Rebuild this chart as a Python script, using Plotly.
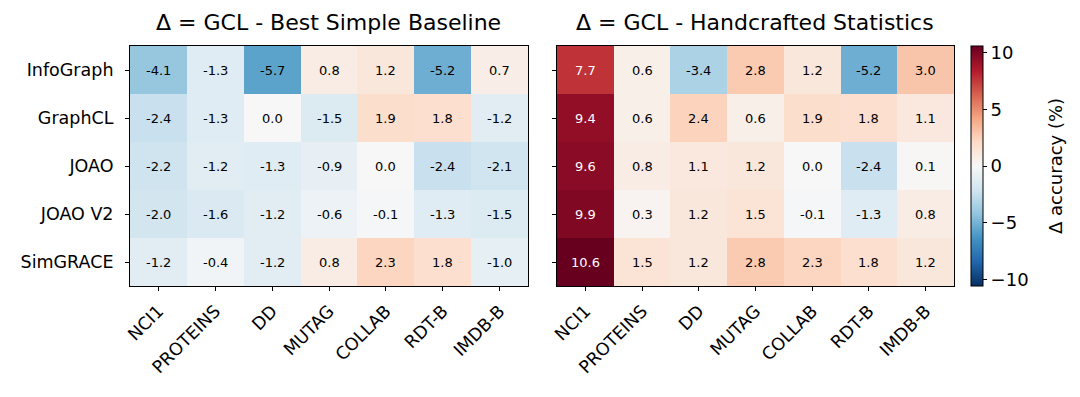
import plotly.graph_objects as go
from plotly.subplots import make_subplots

# Datasets (columns) and GCL methods (rows)
datasets = ["NCI1", "PROTEINS", "DD", "MUTAG", "COLLAB", "RDT-B", "IMDB-B"]
methods = ["InfoGraph", "GraphCL", "JOAO", "JOAO V2", "SimGRACE"]

# Delta = GCL - best simple baseline
delta_simple = [
    [-4.1, -1.3, -5.7, 0.8, 1.2, -5.2, 0.7],
    [-2.4, -1.3, 0.0, -1.5, 1.9, 1.8, -1.2],
    [-2.2, -1.2, -1.3, -0.9, 0.0, -2.4, -2.1],
    [-2.0, -1.6, -1.2, -0.6, -0.1, -1.3, -1.5],
    [-1.2, -0.4, -1.2, 0.8, 2.3, 1.8, -1.0],
]

# Delta = GCL - handcrafted statistics
delta_hand = [
    [7.7, 0.6, -3.4, 2.8, 1.2, -5.2, 3.0],
    [9.4, 0.6, 2.4, 0.6, 1.9, 1.8, 1.1],
    [9.6, 0.8, 1.1, 1.2, 0.0, -2.4, 0.1],
    [9.9, 0.3, 1.2, 1.5, -0.1, -1.3, 0.8],
    [10.6, 1.5, 1.2, 2.8, 2.3, 1.8, 1.2],
]

titles = ["Δ = GCL - Best Simple Baseline", "Δ = GCL - Handcrafted Statistics"]
cbar_title = "Δ accuracy (%)"
cbar_ticks = [-10, -5, 0, 5, 10]
vmax = 10.6

# matplotlib RdBu_r
rdbu = ["rgb(5,48,97)", "rgb(33,102,172)", "rgb(67,147,195)", "rgb(146,197,222)",
        "rgb(209,229,240)", "rgb(247,247,247)", "rgb(253,219,199)", "rgb(244,165,130)",
        "rgb(214,96,77)", "rgb(178,24,43)", "rgb(103,0,31)"]
colorscale = [[i / (len(rdbu) - 1), c] for i, c in enumerate(rdbu)]

FONT = "DejaVu Sans"

fig = make_subplots(rows=1, cols=2)

for i, z in enumerate([delta_simple, delta_hand]):
    fig.add_trace(go.Heatmap(
        z=z, x=datasets, y=methods,
        zmin=-vmax, zmax=vmax,
        colorscale=colorscale,
        showscale=(i == 1),
        hoverinfo="skip",
        colorbar=dict(
            x=1.0206, xanchor="left", y=0.5, yanchor="middle",
            len=1, lenmode="fraction", thickness=12, xpad=0, ypad=0,
            outlinewidth=1, outlinecolor="black",
            tickvals=cbar_ticks, ticks="outside", ticklen=4, tickcolor="black",
            tickfont=dict(size=18, color="black", family=FONT),
        ),
    ), row=1, col=i + 1)

    # cell values
    for r, m in enumerate(methods):
        for c, d in enumerate(datasets):
            v = z[r][c]
            fig.add_annotation(
                x=d, y=m, text=f"{v:.1f}", showarrow=False,
                xref=f"x{i + 1 if i else ''}", yref=f"y{i + 1 if i else ''}",
                font=dict(size=13, family=FONT,
                          color="white" if abs(v) > 7 else "black"),
            )

    # subplot title
    fig.add_annotation(
        text=titles[i], showarrow=False,
        xref=f"x{i + 1 if i else ''} domain", yref="paper",
        x=0.5, y=1, xanchor="center", yanchor="bottom", yshift=9,
        font=dict(size=22, family=FONT, color="black"),
    )

# colorbar label
fig.add_annotation(
    text=cbar_title, showarrow=False, textangle=-90,
    xref="paper", yref="paper", x=1.1226, y=0.5,
    xanchor="center", yanchor="middle",
    font=dict(size=18, family=FONT, color="black"),
)

axis_style = dict(showline=True, mirror=True, linecolor="black", linewidth=1,
                  ticks="outside", ticklen=4, tickcolor="black", showgrid=False,
                  zeroline=False, automargin=False,
                  tickfont=dict(size=17.5, family=FONT, color="black"))

fig.update_xaxes(**axis_style, tickangle=-45, ticklabelstandoff=3)
fig.update_yaxes(**axis_style, autorange="reversed", ticklabelstandoff=8)
fig.update_layout(
    xaxis=dict(domain=[0, 0.483]),
    xaxis2=dict(domain=[0.5182, 1]),
    yaxis2=dict(showticklabels=False),
)

fig.update_layout(
    width=1080, height=397,
    margin=dict(l=130, r=126, t=46, b=111, autoexpand=False),
    paper_bgcolor="white", plot_bgcolor="white",
    font=dict(family=FONT, color="black"),
)

fig.write_html("out.html", config={"displayModeBar": False},
               post_script="document.body.style.margin='0';")
